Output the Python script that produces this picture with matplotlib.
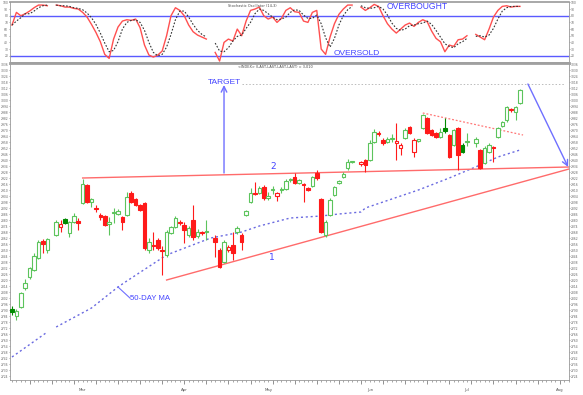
import matplotlib.pyplot as plt
import matplotlib.ticker as mticker

# daily candles, None = market holiday
opens = [2791, 2784, 2793, 2812, 2823, 2830, 2842, 2859, 2850, None,
         2865, 2873, 2881, 2867, 2878, 2879, 2897, 2915, 2898, 2891,
         2885, 2884, 2876, 2887, 2886, 2883, 2885, 2907, 2901, 2895,
         2897, 2850, 2854, 2860, 2850, 2845, 2867, 2873, 2877, 2875,
         2865, 2880, 2864, 2867, 2868, None, 2862, 2850, 2838, 2850,
         2855, 2868, 2865, 2885, 2898, 2907, 2907, 2913, 2902, 2910,
         2904, 2910, 2911, 2920, 2923, 2917, 2915, 2912, 2914, 2927,
         2901, 2865, 2885, 2905, 2917, 2923, 2932, 2938, None, 2936,
         2940, 2940, 2958, 2966, 2960, 2958, 2961, 2957, 2952, 2962,
         2973, 2948, 2959, 2972, 2982, 2970, 2967, 2963, 2972, 2965,
         2955, 2972, 2955, 2958, None, 2957, 2950, 2937, 2948, 2953,
         2963, 2974, 2980, 2990, 2988, 2997]
highs = [2794, 2791, 2808, 2821, 2833, 2847, 2860, 2861, 2862, None,
         2880, 2880, 2882, 2879, 2887, 2882, 2921, 2916, 2902, 2895,
         2887, 2885, 2883, 2892, 2891, 2884, 2908, 2909, 2902, 2896,
         2898, 2862, 2868, 2862, 2854, 2870, 2874, 2884, 2880, 2878,
         2874, 2895, 2871, 2869, 2880, None, 2865, 2852, 2860, 2855,
         2868, 2874, 2867, 2890, 2912, 2918, 2914, 2915, 2908, 2914,
         2908, 2913, 2921, 2922, 2927, 2921, 2917, 2913, 2924, 2930,
         2902, 2880, 2902, 2914, 2920, 2928, 2941, 2939, None, 2939,
         2941, 2960, 2971, 2969, 2962, 2963, 2966, 2977, 2957, 2972,
         2974, 2962, 2961, 2986, 2983, 2971, 2968, 2972, 2982, 2966,
         2971, 2973, 2957, 2967, None, 2963, 2951, 2954, 2957, 2954,
         2973, 2979, 2994, 2992, 2994, 3011]
lows = [2785, 2780, 2792, 2810, 2821, 2829, 2841, 2847, 2847, None,
        2864, 2868, 2876, 2863, 2877, 2870, 2896, 2897, 2893, 2888,
        2880, 2874, 2865, 2877, 2885, 2870, 2884, 2897, 2894, 2889,
        2850, 2847, 2850, 2850, 2825, 2843, 2866, 2872, 2875, 2857,
        2863, 2860, 2862, 2865, 2860, None, 2843, 2832, 2837, 2848,
        2840, 2866, 2850, 2884, 2897, 2905, 2906, 2900, 2900, 2906,
        2899, 2907, 2910, 2918, 2916, 2916, 2898, 2909, 2913, 2920,
        2867, 2863, 2884, 2904, 2916, 2922, 2930, 2937, None, 2934,
        2928, 2939, 2957, 2964, 2955, 2957, 2958, 2940, 2945, 2961,
        2966, 2943, 2958, 2971, 2966, 2964, 2962, 2962, 2967, 2942,
        2954, 2930, 2947, 2954, None, 2953, 2931, 2936, 2947, 2938,
        2962, 2973, 2978, 2988, 2980, 2996]
closes = [2788, 2789, 2807, 2817, 2832, 2844, 2858, 2856, 2861, None,
          2878, 2876, 2877, 2878, 2884, 2877, 2916, 2898, 2901, 2891,
          2883, 2875, 2878, 2887, 2889, 2878, 2903, 2898, 2895, 2890,
          2852, 2858, 2854, 2852, 2849, 2868, 2873, 2882, 2877, 2870,
          2872, 2863, 2868, 2867, 2868, None, 2858, 2833, 2858, 2853,
          2847, 2872, 2858, 2889, 2907, 2906, 2912, 2902, 2904, 2910,
          2907, 2910, 2919, 2920, 2917, 2920, 2915, 2910, 2923, 2922,
          2868, 2878, 2900, 2913, 2919, 2926, 2938, 2939, None, 2938,
          2935, 2957, 2968, 2966, 2957, 2961, 2962, 2959, 2955, 2970,
          2967, 2960, 2961, 2985, 2967, 2965, 2963, 2968, 2969, 2943,
          2970, 2945, 2948, 2958, None, 2961, 2932, 2952, 2955, 2952,
          2972, 2978, 2993, 2990, 2993, 3010]

stoch_k = [66, 85, 80, 83, 87, 92, 96, 96, 95, None,
           96, 95, 93, 93, 91, 90, 85, 78, 67, 55,
           41, 22, 16, 45, 63, 72, 74, 73, 75, 62,
           36, 21, 18, 21, 27, 50, 80, 92, 88, 80,
           66, 56, 51, 48, 45, None, 25, 12, 40, 45,
           42, 60, 50, 72, 88, 90, 93, 80, 75, 78,
           70, 76, 88, 92, 86, 85, 72, 70, 85, 88,
           30, 22, 48, 68, 82, 90, 96, 96, None, 93,
           88, 92, 97, 94, 80, 68, 60, 54, 60, 66,
           69, 64, 70, 74, 71, 57, 46, 41, 26, 36,
           34, 44, 45, 50, None, 52, 48, 44, 60, 78,
           88, 94, 95, 93, 94, 94]
stoch_d = [66, 72, 77, 83, 83, 87, 92, 95, 96, None,
           96, 95, 95, 94, 92, 91, 89, 84, 77, 67,
           54, 39, 26, 28, 41, 60, 70, 73, 74, 70,
           58, 40, 25, 20, 22, 33, 52, 74, 87, 87,
           78, 67, 58, 52, 48, None, 39, 27, 26, 32,
           42, 49, 51, 61, 70, 83, 90, 88, 83, 78,
           74, 75, 78, 85, 89, 88, 81, 76, 76, 81,
           68, 47, 33, 46, 66, 80, 89, 94, None, 95,
           92, 91, 92, 94, 90, 81, 69, 61, 58, 60,
           65, 66, 68, 69, 72, 67, 58, 48, 38, 34,
           32, 38, 41, 46, None, 49, 50, 48, 51, 61,
           75, 87, 92, 94, 94, 94]

# 50-day moving average
ma_day = [0, 8, 9, 10, 18, 24, 26, 35, 45, 52, 56, 63, 70, 74, 79, 80,
          86, 92, 99, 106, 110, 115]
ma_val = [2743, 2768, None, 2773, 2792, 2813, 2819, 2845, 2862, 2868, 2874,
          2882, 2884, 2886, 2888, 2892, 2901, 2910, 2922, 2935, 2943, 2950]

line1_day, line1_val = [35, 126.1], [2820, 2931]
line2_day, line2_val = [16, 126.1], [2922, 2933]
wedge_day, wedge_val = [93, 115.7], [2987, 2965]
target_day, target_from, target_to = 48, 2927, 3015
target_level, target_start, target_end = 3016, 52, 125
proj_day, proj_val = [116.8, 125.9], [3016, 2933]

month_day = [16, 39, 58, 81, 103, 124]
month_names = ['Mar', 'Apr', 'May', 'Jun', 'Jul', 'Aug']

GREEN = '#5cc45c'
DKGREEN = '#008a00'
RED = '#ff1a1a'
BLUE = '#4444ff'
LABEL_FONT = ['Liberation Sans', 'DejaVu Sans']

fig = plt.figure(figsize=(5.83, 3.95), dpi=100)
ax_s = fig.add_axes([10 / 583, 1 - 62 / 395, 559 / 583, 60 / 395])
ax = fig.add_axes([10 / 583, 1 - 380 / 395, 559 / 583, 317 / 395])

xmin, xmax = -0.45, 126.1

# ---- stochastic panel
days = list(range(len(closes)))
k_plot = [float('nan') if v is None else v for v in stoch_k]
d_plot = [float('nan') if v is None else v for v in stoch_d]
ax_s.axhline(80, color='#5a5aff', lw=1.0)
ax_s.axhline(20, color='#5a5aff', lw=1.0)
ax_s.plot(days, k_plot, color='#ff5050', lw=1.0)
ax_s.plot(days, d_plot, color='#333333', lw=0.8, ls=(0, (1.5, 1.5)))
ax_s.set_xlim(xmin, xmax)
ax_s.set_ylim(10.6, 100.6)
ax_s.yaxis.set_major_locator(mticker.MultipleLocator(10))
ax_s.set_xticks([])
ax_s.tick_params(axis='y', labelsize=2.2, length=1, width=0.4, colors='#666666',
                 left=True, right=True, labelleft=True, labelright=True, pad=0.3)
ax_s.text(91.7, 94, 'OVERBOUGHT', color=BLUE, fontsize=6.2, ha='center',
          va='center', family=LABEL_FONT)
ax_s.text(78.1, 24, 'OVERSOLD', color=BLUE, fontsize=6.0, ha='center',
          va='center', family=LABEL_FONT)
ax_s.text(0.433, 0.97, 'Stochastic Oscillator (14,3)', transform=ax_s.transAxes,
          fontsize=2.5, ha='center', va='top', color='#444444')
for s in ax_s.spines.values():
    s.set_color('#999999')
    s.set_linewidth(0.6)
ax_s.spines['top'].set_linewidth(1.2)

# ---- price panel
for i, (o, h, l, c) in enumerate(zip(opens, highs, lows, closes)):
    if o is None:
        continue
    prev = None
    for j in range(i - 1, -1, -1):
        if closes[j] is not None:
            prev = closes[j]
            break
    up_day = prev is None or c >= prev
    if c > o:
        edge = GREEN if up_day else RED
        face = 'white'
    elif c < o:
        edge = DKGREEN if up_day else RED
        face = edge
    else:
        edge = GREEN if up_day else RED
        face = edge
    ax.vlines(i, l, h, color=edge, lw=0.8, zorder=2)
    ax.bar(i, max(abs(c - o), 0.9), bottom=min(o, c), width=0.8,
           facecolor=face, edgecolor=edge, linewidth=0.8, zorder=3)

ma_plot = [float('nan') if v is None else v for v in ma_val]
ax.plot(ma_day, ma_plot, color='#6a6ae0', lw=1.0, ls=(0, (1.5, 2.0)), zorder=1)

ax.plot(line1_day, line1_val, color='#ff6b6b', lw=1.0, zorder=1)
ax.plot(line2_day, line2_val, color='#ff6b6b', lw=1.0, zorder=1)
ax.plot(wedge_day, wedge_val, color='#ff7777', lw=0.9, ls=(0, (1.5, 1.5)), zorder=1)
ax.plot([target_start, target_end], [target_level, target_level], color='#bbbbbb',
        lw=0.7, ls=(0, (1.5, 2.0)), zorder=1)

ax.annotate('', xy=(target_day, target_to), xytext=(target_day, target_from),
            arrowprops=dict(arrowstyle='->', color='#6f6fff', lw=1.0,
                            mutation_scale=10, shrinkA=0, shrinkB=0))
ax.text(target_day, target_to + 3, 'TARGET', color=BLUE, fontsize=6.0,
        ha='center', va='center', family=LABEL_FONT)
ax.annotate('', xy=(proj_day[1], proj_val[1]), xytext=(proj_day[0], proj_val[0]),
            arrowprops=dict(arrowstyle='->', color='#6f6fff', lw=1.0,
                            mutation_scale=10, shrinkA=0, shrinkB=0))

ax.text(59.1, 2929, '2', color=BLUE, fontsize=6.5, ha='center', va='bottom')
ax.text(58.9, 2843, '1', color=BLUE, fontsize=6.5, ha='center', va='center')

ax.plot([24, 26.7], [2813, 2802], color='#6f6fff', lw=0.8)
ax.text(26.7, 2802, '50-DAY MA', color=BLUE, fontsize=5.6, ha='left',
        va='center', family=LABEL_FONT)

ax.text(0.474, 0.993, '<INDEX> (LAST,LAST,LAST,LAST) = 3,010', transform=ax.transAxes,
        fontsize=2.5, ha='center', va='top', color='#444444')

ax.set_xlim(xmin, xmax)
ax.set_ylim(2720, 3037)
ax.yaxis.set_major_locator(mticker.MultipleLocator(6))
ax.tick_params(axis='y', labelsize=2.2, length=1, width=0.4, colors='#666666',
               left=True, right=True, labelleft=True, labelright=True, pad=0.3)
ax.xaxis.set_major_locator(mticker.MultipleLocator(5, offset=4))
ax.xaxis.set_minor_locator(mticker.MultipleLocator(1))
ax.xaxis.set_major_formatter(mticker.NullFormatter())
ax.tick_params(axis='x', which='major', length=3, width=0.5, colors='#666666')
ax.tick_params(axis='x', which='minor', length=1.5, width=0.4, colors='#666666')
for d, m in zip(month_day, month_names):
    ax.text(d, -0.025, m, transform=ax.get_xaxis_transform(), fontsize=2.8,
            ha='center', va='top', color='#555555')
for s in ax.spines.values():
    s.set_color('#999999')
    s.set_linewidth(0.6)
ax.spines['top'].set_linewidth(2.0)
ax.spines['top'].set_color('#a0a0a0')

fig.savefig('out.png', dpi=100)
